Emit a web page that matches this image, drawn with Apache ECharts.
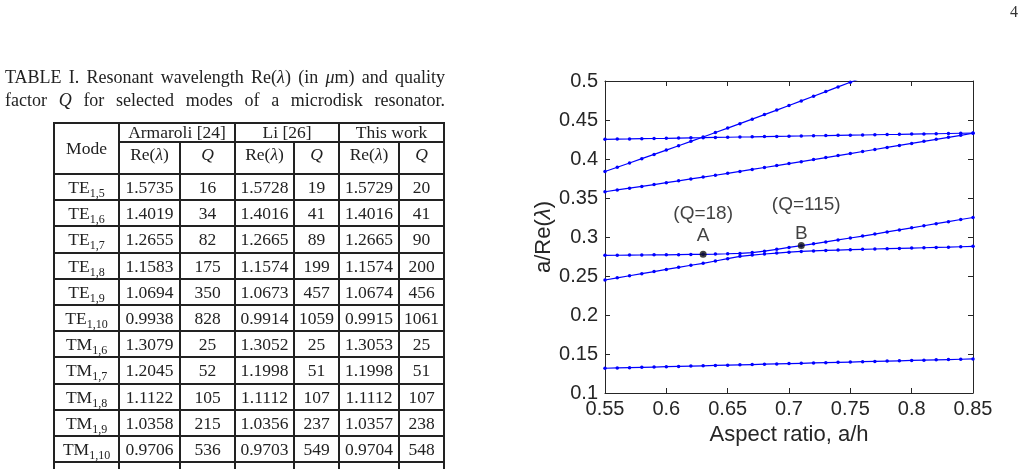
<!DOCTYPE html>
<html>
<head>
<meta charset="utf-8">
<script src="https://cdn.jsdelivr.net/npm/echarts@6/dist/echarts.min.js"></script>
<style>
  html, body { margin: 0; padding: 0; background: #fff; width: 1028px; height: 469px; overflow: hidden; }
  #chart { position: absolute; left: 0; top: 0; width: 1028px; height: 469px; }
  .page-no { position: absolute; left: 1010px; top: 3px; font: 16px "Liberation Serif", serif; color: #333; }
  .caption { position: absolute; left: 5px; top: 66px; width: 440px; font: 18px "Liberation Serif", serif; color: #222; line-height: 23px; }
  .caption div { text-align: justify; text-align-last: justify; }
  table { position: absolute; left: 53px; top: 122px; border-collapse: collapse; table-layout: fixed;
          font: 17.5px "Liberation Serif", serif; color: #222; }
  td { border: 2px solid #222; text-align: center; padding: 0; white-space: nowrap; }
  tr.h1 td { height: 17px; line-height: 17px; }
  tr.h2 td { height: 29px; vertical-align: top; padding-top: 1px; }
  tr.d td { height: 24.2px; line-height: 20px; }
  sub { font-size: 12px; vertical-align: -4px; line-height: 0; }
  i { font-style: italic; }
</style>
</head>
<body>
<div id="chart"></div>
<div class="page-no">4</div>
<div class="caption">
  <div>TABLE I. Resonant wavelength Re(<i>λ</i>) (in <i>μ</i>m) and quality</div>
  <div>factor <i>Q</i> for selected modes of a microdisk resonator.</div>
</div>
<table id="tbl">
  <colgroup>
    <col style="width:65px"><col style="width:61px"><col style="width:55px">
    <col style="width:59px"><col style="width:45px"><col style="width:60px"><col style="width:45px">
  </colgroup>
  <tbody id="tbody">
    <tr class="h1"><td rowspan="2" style="vertical-align:middle">Mode</td>
      <td colspan="2">Armaroli [24]</td><td colspan="2">Li [26]</td><td colspan="2">This work</td></tr>
    <tr class="h2"><td>Re(<i>λ</i>)</td><td><i>Q</i></td><td>Re(<i>λ</i>)</td><td><i>Q</i></td><td>Re(<i>λ</i>)</td><td><i>Q</i></td></tr>
  </tbody>
</table>
<script>
// table data
const modeNames = ['TE', 'TE', 'TE', 'TE', 'TE', 'TE', 'TM', 'TM', 'TM', 'TM', 'TM'];
const modeSubs = ['1,5', '1,6', '1,7', '1,8', '1,9', '1,10', '1,6', '1,7', '1,8', '1,9', '1,10'];
const armaroliRe = ['1.5735', '1.4019', '1.2655', '1.1583', '1.0694', '0.9938', '1.3079', '1.2045', '1.1122', '1.0358', '0.9706'];
const armaroliQ = ['16', '34', '82', '175', '350', '828', '25', '52', '105', '215', '536'];
const liRe = ['1.5728', '1.4016', '1.2665', '1.1574', '1.0673', '0.9914', '1.3052', '1.1998', '1.1112', '1.0356', '0.9703'];
const liQ = ['19', '41', '89', '199', '457', '1059', '25', '51', '107', '237', '549'];
const thisRe = ['1.5729', '1.4016', '1.2665', '1.1574', '1.0674', '0.9915', '1.3053', '1.1998', '1.1112', '1.0357', '0.9704'];
const thisQ = ['20', '41', '90', '200', '456', '1061', '25', '51', '107', '238', '548'];

// chart data: aspect ratio a/h and a/Re(lambda) of each branch
const aspect = [0.55, 0.56, 0.57, 0.58, 0.59, 0.60, 0.61, 0.62, 0.63, 0.64, 0.65,
  0.66, 0.67, 0.68, 0.69, 0.70, 0.71, 0.72, 0.73, 0.74, 0.75,
  0.76, 0.77, 0.78, 0.79, 0.80, 0.81, 0.82, 0.83, 0.84, 0.85];
const branchSteep = [0.3840, 0.3894, 0.3949, 0.4004, 0.4059, 0.4114, 0.4170, 0.4226, 0.4282, 0.4339, 0.4396,
  0.4453, 0.4511, 0.4569, 0.4627, 0.4686, 0.4745, 0.4804, 0.4864, 0.4924, 0.4984,
  0.5045, 0.5106, 0.5167, 0.5228, 0.5290, 0.5352, 0.5414, 0.5476, 0.5539, 0.5602];
const branchFlatHigh = [0.4252, 0.4255, 0.4257, 0.4260, 0.4263, 0.4265, 0.4268, 0.4271, 0.4273, 0.4276, 0.4279,
  0.4282, 0.4284, 0.4287, 0.4290, 0.4292, 0.4295, 0.4298, 0.4300, 0.4303, 0.4306,
  0.4308, 0.4311, 0.4314, 0.4316, 0.4319, 0.4322, 0.4324, 0.4327, 0.4330, 0.4332];
const branchMid = [0.3580, 0.3603, 0.3626, 0.3649, 0.3672, 0.3696, 0.3720, 0.3744, 0.3768, 0.3792, 0.3816,
  0.3841, 0.3866, 0.3891, 0.3916, 0.3941, 0.3966, 0.3992, 0.4018, 0.4044, 0.4070,
  0.4096, 0.4122, 0.4148, 0.4174, 0.4200, 0.4226, 0.4252, 0.4278, 0.4304, 0.4330];
const branchUpper = [0.2765, 0.2766, 0.2768, 0.2769, 0.2771, 0.2772, 0.2774, 0.2776, 0.2778, 0.2781, 0.2785,
  0.2790, 0.2800, 0.2818, 0.2842, 0.2866, 0.2889, 0.2913, 0.2937, 0.2962, 0.2987,
  0.3012, 0.3038, 0.3065, 0.3091, 0.3118, 0.3144, 0.3171, 0.3197, 0.3224, 0.3250];
const branchLower = [0.2449, 0.2476, 0.2503, 0.2530, 0.2557, 0.2584, 0.2611, 0.2638, 0.2663, 0.2692, 0.2722,
  0.2752, 0.2768, 0.2782, 0.2794, 0.2805, 0.2815, 0.2822, 0.2828, 0.2833, 0.2838,
  0.2842, 0.2846, 0.2850, 0.2854, 0.2858, 0.2862, 0.2866, 0.2870, 0.2875, 0.2880];
const branchLow = [0.1317, 0.1321, 0.1325, 0.1329, 0.1333, 0.1337, 0.1341, 0.1345, 0.1349, 0.1353, 0.1357,
  0.1361, 0.1365, 0.1369, 0.1373, 0.1377, 0.1381, 0.1385, 0.1389, 0.1393, 0.1397,
  0.1401, 0.1405, 0.1409, 0.1413, 0.1417, 0.1421, 0.1425, 0.1429, 0.1433, 0.1437];

// marked points A and B
const markNames = ['A', 'B'];
const markX = [0.63, 0.71];
const markY = [0.278, 0.289];
const markQ = ['(Q=18)', '(Q=115)'];

// build table rows
const tbody = document.getElementById('tbody');
modeNames.forEach((m, i) => {
  const tr = document.createElement('tr');
  tr.className = 'd';
  tr.innerHTML = '<td>' + m + '<sub>' + modeSubs[i] + '</sub></td>' +
    '<td>' + armaroliRe[i] + '</td><td>' + armaroliQ[i] + '</td>' +
    '<td>' + liRe[i] + '</td><td>' + liQ[i] + '</td>' +
    '<td>' + thisRe[i] + '</td><td>' + thisQ[i] + '</td>';
  tbody.appendChild(tr);
});
// next row is cut by the page edge
const cut = document.createElement('tr');
cut.className = 'd';
cut.innerHTML = '<td></td><td></td><td></td><td></td><td></td><td></td><td></td>';
tbody.appendChild(cut);

const chart = echarts.init(document.getElementById('chart'));
const axisColor = '#262626';
const font = '"Liberation Sans", Arial, sans-serif';

function lineSeries(vals) {
  return {
    type: 'line',
    data: aspect.map((x, i) => [x, vals[i]]),
    symbol: 'circle',
    symbolSize: 3.5,
    clip: true,
    lineStyle: { color: '#0000ff', width: 1.2 },
    itemStyle: { color: '#0000ff' },
    z: 2
  };
}

const letterOffsets = [[0, -18], [0, -12]];
const qOffsets = [[0, -40], [5, -41]];

const xCommon = {
  type: 'value', min: 0.55, max: 0.85, interval: 0.05,
  axisLine: { lineStyle: { color: axisColor, width: 1 } },
  axisTick: { inside: true, length: 5, lineStyle: { color: axisColor } },
  splitLine: { show: false }
};
const yCommon = {
  type: 'value', min: 0.1, max: 0.5, interval: 0.05,
  axisLine: { lineStyle: { color: axisColor, width: 1 } },
  axisTick: { inside: true, length: 5, lineStyle: { color: axisColor } },
  splitLine: { show: false }
};

chart.setOption({
  animation: false,
  backgroundColor: 'transparent',
  grid: { left: 605, top: 81, width: 368, height: 312 },
  xAxis: [
    Object.assign({}, xCommon, {
      position: 'bottom',
      name: 'Aspect ratio, a/h', nameLocation: 'middle', nameGap: 24,
      nameTextStyle: { fontFamily: font, fontSize: 22, color: axisColor },
      axisLabel: { fontFamily: font, fontSize: 20, color: axisColor, margin: 6 }
    }),
    Object.assign({}, xCommon, { position: 'top', axisLabel: { show: false } })
  ],
  yAxis: [
    Object.assign({}, yCommon, {
      position: 'left',
      name: 'a/Re({i|λ})', nameLocation: 'middle', nameGap: 47,
      nameTextStyle: { fontFamily: font, fontSize: 22, color: axisColor,
        rich: { i: { fontFamily: font, fontSize: 22, fontStyle: 'italic', color: axisColor } } },
      axisLabel: { fontFamily: font, fontSize: 20, color: axisColor, margin: 7 }
    }),
    Object.assign({}, yCommon, { position: 'right', axisLabel: { show: false } })
  ],
  series: [
    lineSeries(branchSteep),
    lineSeries(branchFlatHigh),
    lineSeries(branchMid),
    lineSeries(branchUpper),
    lineSeries(branchLower),
    lineSeries(branchLow),
    {
      type: 'scatter',
      symbol: 'circle',
      symbolSize: 7,
      itemStyle: { color: '#111' },
      z: 5,
      data: markX.map((x, i) => ({
        value: [x, markY[i]],
        label: {
          show: true, position: 'inside', offset: letterOffsets[i],
          formatter: markNames[i], fontFamily: font, fontSize: 19, color: '#111'
        }
      }))
    },
    {
      type: 'scatter',
      symbolSize: 0,
      silent: true,
      z: 5,
      data: markX.map((x, i) => ({
        value: [x, markY[i]],
        label: {
          show: true, position: 'inside', offset: qOffsets[i],
          formatter: markQ[i], fontFamily: font, fontSize: 19, color: '#111'
        }
      }))
    }
  ]
});
</script>
</body>
</html>
